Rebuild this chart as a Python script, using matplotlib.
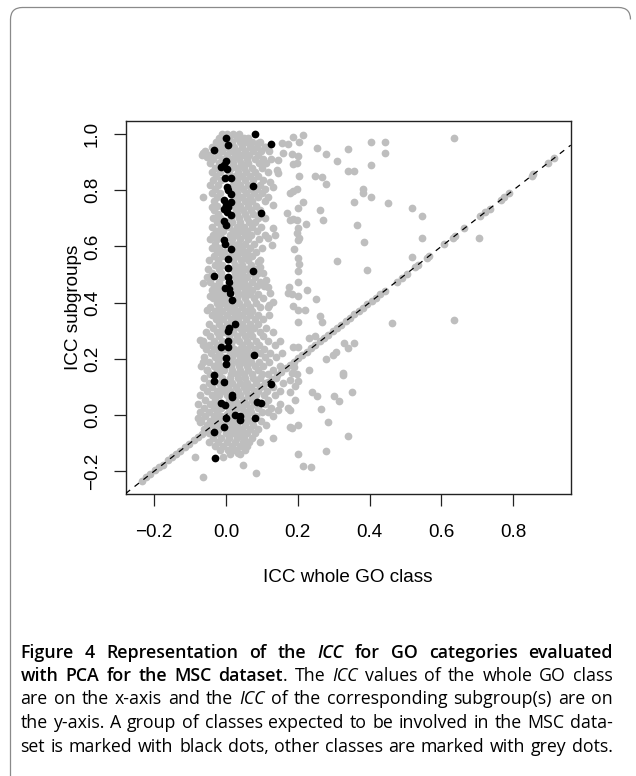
import matplotlib
matplotlib.use("Agg")
import matplotlib.pyplot as plt
from matplotlib.path import Path
from matplotlib.patches import PathPatch

# ---------------- data ----------------
x_ticks = [-0.2, 0.0, 0.2, 0.4, 0.6, 0.8]
x_tick_labels = ["\u22120.2", "0.0", "0.2", "0.4", "0.6", "0.8"]
y_ticks = [-0.2, 0.0, 0.2, 0.4, 0.6, 0.8, 1.0]
y_tick_labels = ["\u22120.2", "0.0", "0.2", "0.4", "0.6", "0.8", "1.0"]
x_label = "ICC whole GO class"
y_label = "ICC subgroups"
x_limits = (-0.279, 0.960)
y_limits = (-0.282, 1.046)

# classes expected to be involved in the MSC dataset (black dots)
black_pts = [
    (0.000, 0.985), (0.080, 0.998), (0.126, 0.964), (0.006, 0.961), (-0.032, 0.944),
    (0.000, 0.902), (-0.005, 0.890), (-0.013, 0.884), (0.002, 0.875),
    (-0.002, 0.842), (0.015, 0.842), (0.002, 0.812), (0.007, 0.801), (0.015, 0.786),
    (0.076, 0.816), (-0.005, 0.765), (0.013, 0.759), (-0.001, 0.747), (0.007, 0.739),
    (-0.005, 0.732), (0.002, 0.723), (0.014, 0.712), (0.097, 0.720),
    (-0.004, 0.692), (-0.001, 0.676), (-0.004, 0.623), (-0.002, 0.609), (0.014, 0.590),
    (0.006, 0.554), (0.006, 0.522), (0.076, 0.514), (-0.033, 0.495),
    (0.006, 0.492), (0.009, 0.474), (-0.002, 0.451), (0.009, 0.447), (0.011, 0.433),
    (0.018, 0.409), (0.025, 0.324), (0.009, 0.309), (0.006, 0.300), (0.006, 0.265),
    (-0.013, 0.241), (0.007, 0.243), (0.079, 0.214), (-0.001, 0.202), (-0.001, 0.181),
    (-0.033, 0.142), (-0.034, 0.120), (-0.004, 0.116), (0.125, 0.111), (0.017, 0.071),
    (0.018, 0.064), (-0.013, 0.044), (-0.002, 0.037), (0.087, 0.046), (0.097, 0.042),
    (0.024, 0.000), (0.039, -0.002), (0.039, -0.018), (0.000, -0.010), (0.080, -0.011),
    (-0.004, -0.044), (-0.034, -0.060), (-0.031, -0.152),
]

# grey classes lying on the identity line
grey_diag = [
    (-0.234, -0.233), (-0.222, -0.221), (-0.211, -0.210), (-0.198, -0.197), (-0.186, -0.185),
    (-0.175, -0.176), (-0.162, -0.161), (-0.150, -0.149), (-0.139, -0.139), (-0.127, -0.127),
    (-0.114, -0.113), (-0.103, -0.103), (-0.090, -0.089), (-0.079, -0.079), (-0.066, -0.066),
    (-0.052, -0.051), (-0.036, -0.037), (-0.018, -0.018), (0.004, 0.005), (0.024, 0.023),
    (0.046, 0.046), (0.066, 0.067), (0.088, 0.087), (0.104, 0.104), (0.117, 0.118),
    (0.129, 0.129), (0.142, 0.141), (0.153, 0.154), (0.166, 0.166), (0.178, 0.177),
    (0.189, 0.190), (0.202, 0.202), (0.213, 0.214), (0.226, 0.225), (0.238, 0.237),
    (0.249, 0.250), (0.262, 0.262), (0.274, 0.273), (0.285, 0.286), (0.298, 0.298),
    (0.310, 0.309), (0.321, 0.322), (0.334, 0.334), (0.346, 0.345), (0.357, 0.358),
    (0.370, 0.370), (0.382, 0.381), (0.393, 0.394), (0.406, 0.406), (0.418, 0.417),
    (0.430, 0.430), (0.442, 0.441), (0.475, 0.475), (0.489, 0.489), (0.503, 0.502),
    (0.526, 0.526), (0.535, 0.535), (0.559, 0.559), (0.566, 0.566), (0.607, 0.607),
    (0.631, 0.631), (0.638, 0.638), (0.664, 0.664), (0.708, 0.708), (0.721, 0.721),
    (0.734, 0.734), (0.765, 0.765), (0.774, 0.774), (0.789, 0.789), (0.851, 0.851),
    (0.856, 0.856), (0.898, 0.898), (0.914, 0.914),
]

# grey classes scattered outside the dense column
grey_scatter = [
    (0.636, 0.985), (0.403, 0.970), (0.442, 0.973), (0.442, 0.931), (0.403, 0.890),
    (0.341, 0.947), (0.310, 0.905), (0.278, 0.930), (0.253, 0.950), (0.341, 0.867),
    (0.357, 0.867), (0.248, 0.852), (0.267, 0.848), (0.279, 0.823), (0.383, 0.805),
    (0.383, 0.789), (0.403, 0.777), (0.358, 0.758), (0.450, 0.753), (0.262, 0.730),
    (0.271, 0.695), (0.364, 0.676), (0.384, 0.616), (0.519, 0.737), (0.545, 0.709),
    (0.547, 0.630), (0.705, 0.629), (0.308, 0.549), (0.392, 0.517), (0.519, 0.562),
    (0.463, 0.328), (0.636, 0.338), (0.232, 0.159), (0.278, 0.198), (0.297, 0.214),
    (0.306, 0.225), (0.330, 0.257), (0.341, 0.237), (0.357, 0.257), (0.327, 0.148),
    (0.327, 0.141), (0.241, 0.083), (0.253, 0.068), (0.264, 0.021), (0.301, 0.068),
    (0.315, 0.051), (0.352, 0.083), (0.284, -0.024), (0.341, -0.076), (0.279, -0.127),
    (0.215, -0.181), (0.236, -0.184), (0.215, 0.996), (0.251, 0.413), (0.262, 0.352),
    (0.267, 0.332), (0.248, 0.281), (0.231, 0.273), (0.223, 0.679), (0.215, 0.759),
    (0.225, 0.445), (0.220, 0.374),
    (0.204, 0.973), (0.201, 0.922), (0.183, 0.928), (0.199, 0.898), (0.186, 0.892),
    (0.204, 0.851), (0.197, 0.803), (0.188, 0.797), (0.178, 0.791), (0.201, 0.735),
    (0.188, 0.696), (0.197, 0.695), (0.201, 0.667), (0.204, 0.631), (0.201, 0.622),
    (0.189, 0.590), (0.201, 0.558), (0.204, 0.536), (0.201, 0.512), (0.201, 0.473),
    (0.183, 0.430), (0.201, 0.423), (0.188, 0.388), (0.201, 0.374), (0.201, 0.332),
    (0.186, 0.243), (0.201, 0.243), (0.189, 0.172), (0.183, 0.148), (0.197, 0.146),
    (0.201, 0.121), (0.192, 0.054), (0.178, 0.018), (0.183, -0.047), (0.201, -0.036),
    (0.201, -0.139),
    (0.188, 0.990), (0.155, 0.969), (0.172, 0.964), (0.160, 0.931), (0.146, 0.907),
    (0.141, 0.872), (0.146, 0.860), (0.123, 0.830), (0.132, 0.812), (0.118, 0.777),
    (0.132, 0.747), (0.169, 0.717), (0.178, 0.694), (0.197, 0.647), (0.132, 0.664),
    (0.136, 0.641), (0.118, 0.629), (0.127, 0.605), (0.176, 0.457), (0.174, 0.433),
    (0.090, 0.546), (0.095, 0.528), (0.104, 0.504), (0.113, 0.480), (0.118, 0.457),
    (0.123, 0.433), (0.132, 0.403), (0.121, 0.391), (-0.063, 0.777), (-0.040, 0.741),
    (-0.063, 0.469), (-0.045, 0.423), (-0.063, 0.931), (-0.054, 0.919), (0.090, 0.967),
    (0.109, 0.955), (0.048, 0.973),
    (-0.086, -0.148), (-0.063, -0.222), (0.048, -0.178), (0.085, -0.205), (0.034, -0.134),
    (-0.009, -0.148), (0.132, -0.081), (0.095, -0.095), (0.178, -0.042), (0.146, 0.018),
    (0.172, 0.024), (0.178, 0.083), (0.192, 0.103), (0.178, 0.125), (-0.072, 0.267),
    (-0.063, 0.249), (-0.063, 0.190), (-0.054, 0.160), (-0.077, -0.012), (-0.072, -0.024),
    (-0.054, 0.374),
]

# dense grey column, read row by row: (y, [x values])
cloud_top_rows = [
    (1.000, [-0.012, 0.004, 0.020, 0.036]),
    (0.985, [-0.020, 0.010, 0.030, 0.050, 0.062]),
    (0.970, [-0.028, -0.008, 0.018, 0.040, 0.058, 0.072, 0.095]),
    (0.955, [-0.040, -0.018, 0.000, 0.022, 0.044, 0.066, 0.086, 0.110]),
    (0.940, [-0.058, -0.030, -0.010, 0.012, 0.030, 0.052, 0.075, 0.098, 0.120]),
    (0.925, [-0.066, -0.044, -0.022, 0.004, 0.026, 0.046, 0.064, 0.088]),
    (0.910, [-0.036, -0.012, 0.016, 0.036, 0.058, 0.080, 0.104, 0.125]),
    (0.895, [-0.044, -0.020, 0.020, 0.042, 0.062, 0.092, 0.112]),
    (0.880, [-0.030, 0.014, 0.030, 0.050, 0.072, 0.100]),
    (0.865, [-0.040, -0.016, 0.010, 0.034, 0.056, 0.082, 0.118]),
    (0.850, [-0.028, 0.024, 0.044, 0.066, 0.090]),
    (0.835, [-0.036, -0.014, 0.032, 0.054, 0.076, 0.104]),
    (0.820, [-0.044, -0.022, 0.020, 0.040, 0.062, 0.094]),
    (0.805, [-0.030, 0.028, 0.048, 0.070, 0.086, 0.110]),
    (0.790, [-0.040, -0.016, 0.032, 0.056, 0.078, 0.100]),
    (0.775, [-0.026, 0.026, 0.044, 0.066, 0.090]),
    (0.760, [-0.034, 0.030, 0.052, 0.074, 0.108]),
    (0.745, [-0.024, 0.022, 0.040, 0.062, 0.084]),
    (0.730, [-0.032, 0.028, 0.048, 0.070, 0.096]),
    (0.715, [-0.022, 0.030, 0.052, 0.076]),
    (0.700, [-0.036, -0.016, 0.014, 0.036, 0.058, 0.088, 0.110]),
    (0.685, [-0.026, 0.016, 0.040, 0.064, 0.080]),
    (0.670, [-0.040, -0.014, 0.010, 0.030, 0.050, 0.072, 0.098]),
    (0.655, [-0.028, -0.008, 0.020, 0.040, 0.060, 0.086]),
    (0.640, [-0.036, -0.016, 0.012, 0.032, 0.052, 0.070, 0.108]),
    (0.625, [-0.044, -0.024, 0.018, 0.040, 0.062, 0.092]),
    (0.610, [-0.030, 0.016, 0.034, 0.054, 0.078]),
]
cloud_mid_rows = [
    (0.595, [-0.040, -0.018, 0.028, 0.046, 0.066, 0.100]),
    (0.580, [-0.026, -0.006, 0.020, 0.040, 0.060, 0.084]),
    (0.565, [-0.034, -0.012, 0.012, 0.030, 0.052, 0.072]),
    (0.550, [-0.046, -0.022, 0.020, 0.042, 0.062, 0.094]),
    (0.535, [-0.030, -0.010, 0.024, 0.046, 0.070]),
    (0.520, [-0.050, -0.020, 0.020, 0.038, 0.058, 0.080]),
    (0.505, [-0.040, -0.014, 0.026, 0.046, 0.068, 0.090]),
    (0.490, [-0.052, -0.012, 0.024, 0.040, 0.060, 0.082]),
    (0.475, [-0.044, -0.020, 0.030, 0.050, 0.072, 0.096]),
    (0.460, [-0.034, -0.016, 0.026, 0.042, 0.062, 0.086, 0.106]),
    (0.445, [-0.040, -0.020, 0.030, 0.052, 0.074]),
    (0.430, [-0.030, -0.010, 0.034, 0.048, 0.066, 0.090]),
    (0.415, [-0.036, -0.016, 0.004, 0.030, 0.054, 0.078, 0.104]),
    (0.400, [-0.026, -0.006, 0.014, 0.036, 0.058, 0.084]),
    (0.385, [-0.044, -0.020, 0.002, 0.022, 0.044, 0.066, 0.094, 0.116]),
    (0.370, [-0.030, -0.010, 0.012, 0.032, 0.052, 0.074]),
    (0.355, [-0.040, -0.018, 0.004, 0.024, 0.046, 0.068, 0.090, 0.120]),
    (0.340, [-0.028, -0.008, 0.014, 0.034, 0.056, 0.080, 0.104]),
    (0.325, [-0.048, -0.020, 0.002, 0.044, 0.066, 0.088]),
    (0.310, [-0.036, -0.012, 0.022, 0.038, 0.058, 0.078, 0.112]),
]
cloud_low_rows = [
    (0.295, [-0.056, -0.026, -0.004, 0.020, 0.044, 0.066, 0.096, 0.130]),
    (0.280, [-0.044, -0.018, 0.010, 0.030, 0.052, 0.074, 0.104]),
    (0.265, [-0.064, -0.032, -0.010, 0.016, 0.036, 0.060, 0.084, 0.118, 0.150]),
    (0.250, [-0.046, -0.024, 0.014, 0.044, 0.068, 0.092, 0.136]),
    (0.235, [-0.056, -0.034, -0.004, 0.022, 0.040, 0.060, 0.080, 0.106]),
    (0.220, [-0.042, -0.020, 0.012, 0.030, 0.050, 0.070, 0.094, 0.124, 0.156]),
    (0.205, [-0.060, -0.030, -0.010, 0.016, 0.040, 0.060, 0.108, 0.140]),
    (0.190, [-0.046, -0.022, 0.012, 0.030, 0.050, 0.070, 0.092, 0.120]),
    (0.175, [-0.070, -0.034, -0.014, 0.014, 0.036, 0.058, 0.080, 0.104, 0.150]),
    (0.160, [-0.054, -0.026, -0.006, 0.016, 0.040, 0.062, 0.090, 0.132]),
    (0.145, [-0.044, -0.018, 0.014, 0.030, 0.050, 0.072, 0.100, 0.118]),
    (0.130, [-0.060, -0.010, 0.012, 0.034, 0.054, 0.076, 0.094, 0.140]),
    (0.115, [-0.048, -0.020, 0.018, 0.040, 0.060, 0.084, 0.108, 0.160]),
    (0.100, [-0.064, -0.038, -0.014, 0.006, 0.028, 0.050, 0.070, 0.096, 0.130]),
    (0.085, [-0.052, -0.026, -0.004, 0.012, 0.034, 0.056, 0.078, 0.114, 0.150]),
    (0.070, [-0.072, -0.040, -0.018, 0.002, 0.040, 0.062, 0.084, 0.106, 0.138]),
    (0.055, [-0.058, -0.030, 0.010, 0.024, 0.050, 0.072, 0.118]),
    (0.040, [-0.078, -0.044, -0.024, 0.010, 0.028, 0.056, 0.078, 0.110, 0.150]),
    (0.025, [-0.060, -0.034, -0.014, 0.008, 0.030, 0.046, 0.066, 0.090, 0.126]),
    (0.010, [-0.072, -0.048, -0.024, 0.012, 0.052, 0.070, 0.100, 0.116]),
    (-0.005, [-0.058, -0.034, -0.014, 0.014, 0.030, 0.060, 0.084, 0.132]),
    (-0.020, [-0.068, -0.044, -0.024, 0.006, 0.022, 0.050, 0.070, 0.098]),
    (-0.035, [-0.052, -0.030, -0.010, 0.016, 0.032, 0.052, 0.076, 0.112]),
    (-0.050, [-0.060, -0.018, 0.008, 0.028, 0.046, 0.066, 0.090]),
    (-0.065, [-0.048, -0.024, 0.000, 0.020, 0.040, 0.058, 0.080]),
    (-0.080, [-0.036, -0.014, 0.010, 0.030, 0.050, 0.072]),
    (-0.095, [-0.046, -0.022, 0.004, 0.024, 0.048, 0.064]),
    (-0.110, [-0.030, -0.008, 0.018, 0.038, 0.060]),
    (-0.125, [-0.016, 0.006, 0.026, 0.052]),
    (-0.140, [0.012, 0.040]),
]

caption_lines = [
    [("Figure 4 Representation of the ", "bold", "normal"), ("ICC", "bold", "italic"),
     (" for GO categories evaluated", "bold", "normal")],
    [("with PCA for the MSC dataset", "bold", "normal"), (". The ", "normal", "normal"),
     ("ICC", "normal", "italic"), (" values of the whole GO class", "normal", "normal")],
    [("are on the x-axis and the ", "normal", "normal"), ("ICC", "normal", "italic"),
     (" of the corresponding subgroup(s) are on", "normal", "normal")],
    [("the y-axis. A group of classes expected to be involved in the MSC data-", "normal", "normal")],
    [("set is marked with black dots, other classes are marked with grey dots.", "normal", "normal")],
]

# ---------------- figure ----------------
W, H = 636, 776
fig = plt.figure(figsize=(W / 100, H / 100), dpi=100)
plot_font = "Liberation Sans"
cap_font = "Open Sans"
bold_weight = "semibold"

ax = fig.add_axes([125.7 / W, 1 - 494.3 / H, 445.0 / W, 373.3 / H])

grey = "#BEBEBE"
gx, gy = [], []
for rows in (cloud_top_rows, cloud_mid_rows, cloud_low_rows):
    for yv, xs in rows:
        for xv in xs:
            gx.append(xv)
            gy.append(yv)
for pts in (grey_diag, grey_scatter):
    for xv, yv in pts:
        gx.append(xv)
        gy.append(yv)

dot = 31
ax.scatter(gx, gy, s=dot, c=grey, linewidths=0, zorder=2)
ax.scatter([p[0] for p in black_pts], [p[1] for p in black_pts], s=dot, c="black",
           linewidths=0, zorder=3)
ax.axline((0, 0), slope=1, color="black", lw=0.9, linestyle=(0, (4.5, 4.5)), zorder=4)

ax.set_xlim(*x_limits)
ax.set_ylim(*y_limits)
ax.set_xticks(x_ticks)
ax.set_xticklabels(x_tick_labels, family=plot_font, fontsize=13.6)
ax.set_yticks(y_ticks)
ax.set_yticklabels(y_tick_labels, family=plot_font, fontsize=13.6)
for lab in ax.get_yticklabels():
    lab.set_rotation(90)
    lab.set_va("center")
ax.tick_params(axis="both", direction="out", length=8.3, width=0.9, color="#222222")
ax.tick_params(axis="x", pad=13.0)
ax.tick_params(axis="y", pad=9.5)
for sp in ax.spines.values():
    sp.set_linewidth(1.0)
    sp.set_color("#222222")

fig.text(348 / W, 1 - 578 / H, x_label, family=plot_font, fontsize=13.6,
         ha="center", va="center")
fig.text(74 / W, 1 - 307.7 / H, y_label, family=plot_font, fontsize=13.6,
         ha="center", va="center", rotation=90)

# ---------------- border ----------------
L, T, R, r = 10.5, 7.5, 630.5, 12.0
def fp(px, py):
    return (px / W, 1 - py / H)
verts = [fp(L, H + 2), fp(L, T + r), fp(L, T), fp(L + r, T), fp(R - r, T), fp(R, T), fp(R, T + r)]
codes = [Path.MOVETO, Path.LINETO, Path.CURVE3, Path.CURVE3, Path.LINETO, Path.CURVE3, Path.CURVE3]
fig.patches.append(PathPatch(Path(verts, codes), transform=fig.transFigure, fill=False,
                             edgecolor="#8a8a8a", lw=0.9))

# ---------------- caption (justified) ----------------
renderer = fig.canvas.get_renderer()

def wt_of(w):
    return bold_weight if w == "bold" else w

def seg_width(txt, weight, style, size):
    t = fig.text(0, 0, txt, family=cap_font, fontsize=size, fontweight=wt_of(weight),
                 fontstyle=style)
    w = t.get_window_extent(renderer).width
    t.remove()
    return w

def tokenize(line):
    tokens, cur = [], []
    for txt, wt, st in line:
        parts = txt.split(" ")
        for i, part in enumerate(parts):
            if i > 0:
                if cur:
                    tokens.append(cur)
                cur = []
            if part:
                cur.append((part, wt, st))
    if cur:
        tokens.append(cur)
    return tokens

x0, x1 = 20.5, 613.0
baselines = [657.5, 681.0, 704.5, 728.0, 751.5]
size = 12.8
tok_lines = [tokenize(l) for l in caption_lines]

def natural(size):
    mx = 0
    sp = seg_width("a a", "normal", "normal", size) - seg_width("aa", "normal", "normal", size)
    for toks in tok_lines:
        tot = sum(seg_width(s[0], s[1], s[2], size) for tk in toks for s in tk)
        mx = max(mx, tot + sp * 0.6 * (len(toks) - 1))
    return mx

nat = natural(size)
if nat > (x1 - x0):
    size = size * (x1 - x0) / nat

for toks, base in zip(tok_lines, baselines):
    widths = [[seg_width(s[0], s[1], s[2], size) for s in tk] for tk in toks]
    total = sum(sum(w) for w in widths)
    gap = (x1 - x0 - total) / max(len(toks) - 1, 1)
    x = x0
    for tk, ws in zip(toks, widths):
        for (txt, wt, st), w in zip(tk, ws):
            fig.text(x / W, 1 - base / H, txt, family=cap_font, fontsize=size,
                     fontweight=wt_of(wt), fontstyle=st, ha="left", va="baseline")
            x += w
        x += gap

fig.savefig("out.png", dpi=100)
